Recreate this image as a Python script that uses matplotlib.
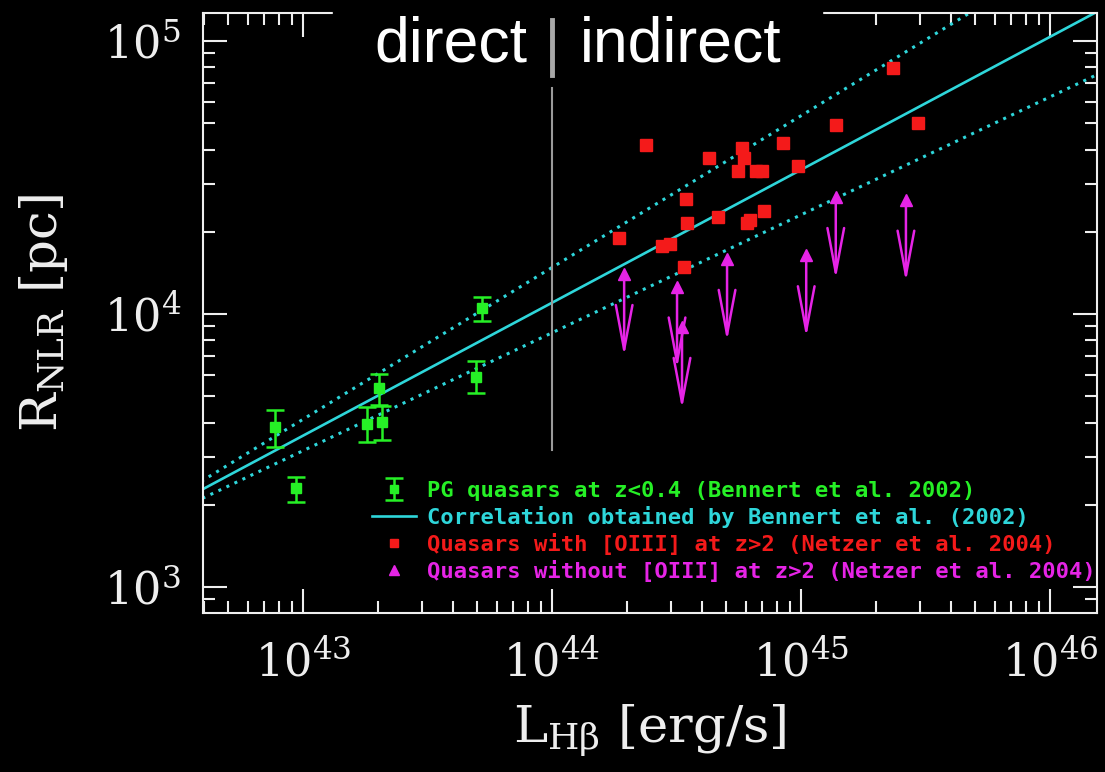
import numpy as np
import matplotlib.pyplot as plt
import matplotlib.transforms as mtransforms
from matplotlib.patches import Rectangle
from matplotlib.lines import Line2D

plt.rcParams['font.family'] = 'serif'
plt.rcParams['font.serif'] = ['DejaVu Serif']
plt.rcParams['mathtext.fontset'] = 'dejavuserif'

# PG quasars at z<0.4 (Bennert et al. 2002)
pg_L = np.array([7.7e42, 9.4e42, 1.81e43, 2.08e43, 2.02e43, 4.95e43, 5.24e43])
pg_R = np.array([3850, 2300, 3950, 4020, 5350, 5880, 10500])
pg_R_hi = np.array([4450, 2530, 4560, 4600, 6030, 6720, 11540])
pg_R_lo = np.array([3260, 2050, 3400, 3450, 4650, 5140, 9430])

# correlation and its bounds: log R = a + b * (log L - 44)
corr_a, corr_b = 4.041, 0.487
upper_a, upper_b = 4.170, 0.556
lower_a, lower_b = 3.931, 0.432

# quasars with [OIII] at z>2 (Netzer et al. 2004)
oiii_L = np.array([2.34e45, 1.38e45, 2.95e45, 2.39e44, 5.80e44, 8.47e44, 4.28e44, 5.90e44,
                   5.58e44, 6.59e44, 6.97e44, 9.72e44, 3.45e44, 3.48e44, 4.64e44, 7.10e44,
                   6.07e44, 6.24e44, 1.86e44, 2.77e44, 2.98e44, 3.39e44])
oiii_R = np.array([7.96e4, 4.92e4, 5.01e4, 4.16e4, 4.06e4, 4.23e4, 3.73e4, 3.73e4,
                   3.34e4, 3.34e4, 3.34e4, 3.48e4, 2.64e4, 2.15e4, 2.27e4, 2.38e4,
                   2.15e4, 2.21e4, 1.90e4, 1.77e4, 1.80e4, 1.49e4])

# quasars without [OIII] (upper limits)
nooiii_L = np.array([1.95e44, 3.18e44, 3.33e44, 5.05e44, 1.05e45, 1.38e45, 2.64e45])
nooiii_R = np.array([1.40e4, 1.26e4, 8.96e3, 1.59e4, 1.64e4, 2.68e4, 2.62e4])
limit_factor = 2.0

labels = ['PG quasars at z<0.4 (Bennert et al. 2002)',
          'Correlation obtained by Bennert et al. (2002)',
          'Quasars with [OIII] at z>2 (Netzer et al. 2004)',
          'Quasars without [OIII] at z>2 (Netzer et al. 2004)']

green = '#26f026'
cyan = '#2ed6da'
red = '#f41a1a'
magenta = '#e624e6'
fg = '#eeeeee'

fig = plt.figure(figsize=(11.05, 7.72), dpi=100, facecolor='black')
ax = fig.add_axes([203/1105, 1-613/772, 894/1105, 600/772])
ax.set_facecolor('black')
ax.set_xscale('log')
ax.set_yscale('log')
ax.set_xlim(3.97e42, 1.545e46)
ax.set_ylim(803, 1.266e5)

# correlation lines
logL = np.linspace(42.5, 46.3, 20)
ax.plot(10**logL, 10**(upper_a + upper_b*(logL-44)), color=cyan, lw=2.2, ls=(0, (1, 1.9)))
ax.plot(10**logL, 10**(lower_a + lower_b*(logL-44)), color=cyan, lw=2.2, ls=(0, (1, 1.9)))
corr_line, = ax.plot(10**logL, 10**(corr_a + corr_b*(logL-44)), color=cyan, lw=1.9)

# direct / indirect divider
ax.axvline(1e44, ymin=0.272, ymax=0.875, color='#9a9a9a', lw=1.5)

pg = ax.errorbar(pg_L, pg_R, yerr=[pg_R - pg_R_lo, pg_R_hi - pg_R], fmt='s', color=green,
                 ms=7, capsize=6.5, elinewidth=1.8, capthick=1.8)

sq, = ax.plot(oiii_L, oiii_R, 's', color=red, ms=8.5, mec=red)

for L, R in zip(nooiii_L, nooiii_R):
    ax.annotate('', xy=(L, R/limit_factor), xytext=(L, R),
                arrowprops=dict(arrowstyle='->,head_length=3.2,head_width=0.6',
                                color=magenta, lw=1.8, shrinkA=0, shrinkB=0,
                                mutation_scale=10))
tri, = ax.plot(nooiii_L, nooiii_R, '^', color=magenta, ms=9)

# axes styling
for s in ax.spines.values():
    s.set_color(fg)
    s.set_linewidth(1.5)
ax.tick_params(which='both', direction='in', top=True, right=True, colors=fg, width=1.5)
ax.tick_params(which='major', length=17, labelsize=32)
ax.tick_params(which='minor', length=8.5)
ax.tick_params(axis='x', which='major', pad=20)
ax.tick_params(axis='y', which='major', pad=16)

ax.set_xlabel(r'$\mathrm{L_{H\beta}\ [erg/s]}$', fontsize=37, color=fg)
ax.set_ylabel(r'$\mathrm{R_{NLR}\ [pc]}$', fontsize=37, color=fg)
ax.xaxis.set_label_coords(0.5, -0.15)
ax.yaxis.set_label_coords(-0.149, 0.5)

leg = ax.legend([pg, corr_line, sq, tri], labels, loc='lower left',
                bbox_to_anchor=(0.189, 0.052), frameon=False, borderpad=0, borderaxespad=0,
                handlelength=2.0, handletextpad=0.5, labelspacing=0.23, markerscale=0.75,
                labelcolor=[green, cyan, red, magenta],
                prop={'family': 'DejaVu Sans Mono', 'weight': 'bold', 'size': 15.9})

# title box "direct | indirect" covering the top frame
fig.add_artist(Rectangle((333/1105, 1-85/772), (822-333)/1105, 85/772,
                         transform=fig.transFigure, color='black', zorder=5))
fig.text(527/1105, 1-62/772, 'direct', ha='right', va='baseline', fontsize=45,
         family='Liberation Sans', color='white', zorder=6)
fig.text(580/1105, 1-62/772, 'indirect', ha='left', va='baseline', fontsize=45,
         family='Liberation Sans', color='white', zorder=6)
trans = mtransforms.blended_transform_factory(ax.transData, fig.transFigure)
fig.add_artist(Line2D([1e44, 1e44], [1-20/772, 1-75/772], transform=trans,
                      color='#a8a8a8', lw=3.5, zorder=6))

fig.savefig('out.png', dpi=100, facecolor='black')
